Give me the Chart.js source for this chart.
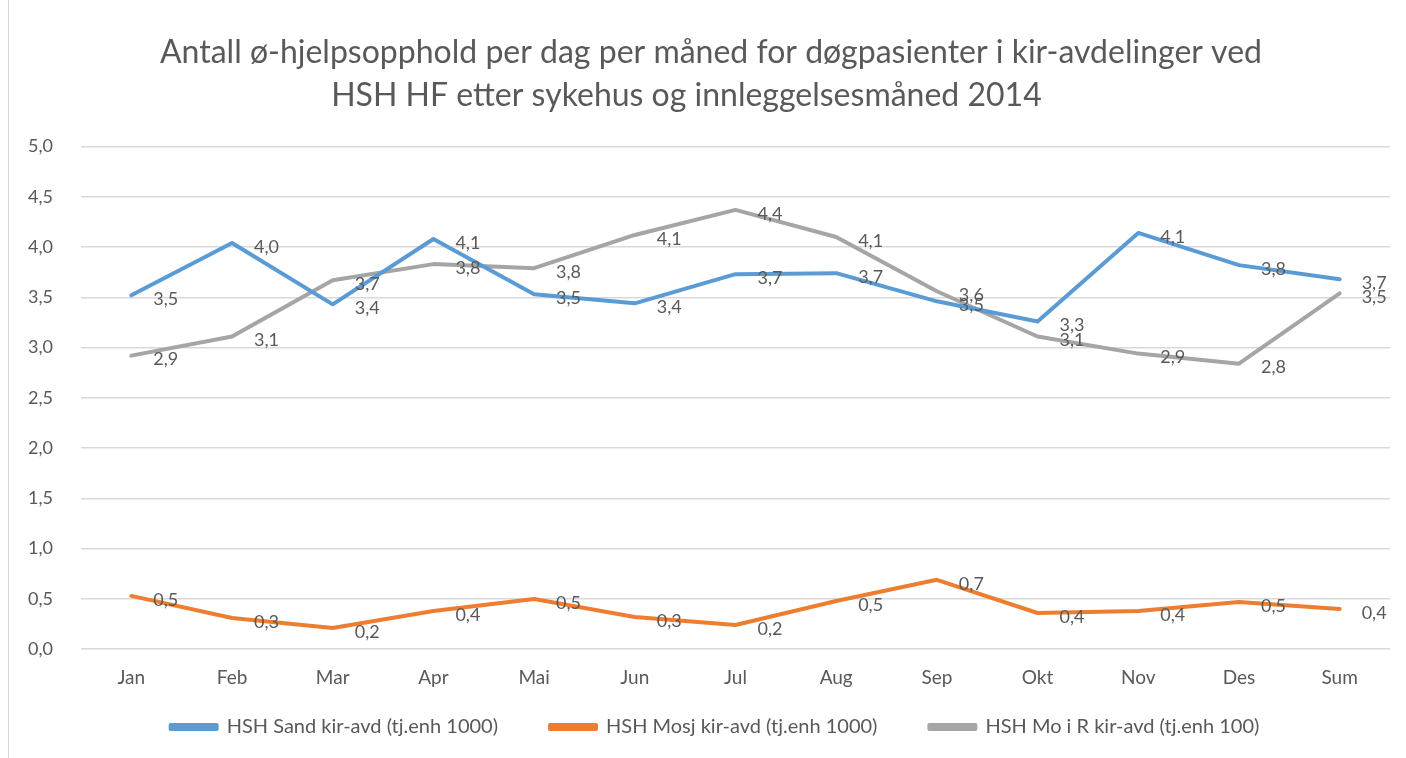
<!DOCTYPE html>
<html>
<head>
<meta charset="utf-8">
<script src="https://cdn.jsdelivr.net/npm/chart.js@4"></script>
<style>
  html, body { margin: 0; padding: 0; background: #fff; }
  #wrap { position: absolute; left: 0; top: 0; width: 1406px; height: 758px; }
  #frame { position: absolute; left: 8px; top: 0; width: 1px; height: 758px; background: #d9d9d9; }
</style>
</head>
<body>
<div id="wrap"><canvas id="chart" width="1406" height="758"></canvas></div>
<div id="frame"></div>
<script>
/* Øhjelp per dag per måned, kir-avdelinger HSH HF 2014 */

const months = ['Jan','Feb','Mar','Apr','Mai','Jun','Jul','Aug','Sep','Okt','Nov','Des','Sum'];
const sandVals = [3.52, 4.04, 3.43, 4.08, 3.53, 3.44, 3.73, 3.74, 3.46, 3.26, 4.14, 3.82, 3.68];
const mosjVals = [0.53, 0.31, 0.21, 0.38, 0.50, 0.32, 0.24, 0.48, 0.69, 0.36, 0.38, 0.47, 0.40];
const moVals   = [2.92, 3.11, 3.67, 3.83, 3.79, 4.12, 4.37, 4.10, 3.56, 3.11, 2.94, 2.84, 3.54];
const seriesNames = ['HSH Sand kir-avd (tj.enh 1000)', 'HSH Mosj kir-avd (tj.enh 1000)', 'HSH Mo i R kir-avd (tj.enh 100)'];
const titleLines = ['Antall ø-hjelpsopphold per dag per måned for døgpasienter i kir-avdelinger ved',
                    'HSH HF etter sykehus og innleggelsesmåned 2014      '];

const FONT = 'Lato, "Open Sans", sans-serif';
const TXT = '#595959';
const fmt = v => v.toFixed(1).replace('.', ',');

// value labels to the right of each point, like Excel's "Right" position
const valueLabels = {
  id: 'valueLabels',
  afterDatasetsDraw(chart) {
    const ctx = chart.ctx;
    ctx.save();
    ctx.font = '18px ' + FONT;
    ctx.fillStyle = TXT;
    ctx.textAlign = 'left';
    ctx.textBaseline = 'middle';
    chart.data.datasets.forEach((ds, i) => {
      const meta = chart.getDatasetMeta(i);
      meta.data.forEach((pt, j) => {
        ctx.fillText(fmt(ds.data[j]), pt.x + 22, pt.y + 4);
      });
    });
    ctx.restore();
  }
};

// nudge title and legend to the right, Excel centres them a bit off the canvas middle
const nudge = {
  id: 'nudge',
  afterLayout(chart) {
    chart.titleBlock.left += 16; chart.titleBlock.right += 16;
    chart.legend.left += 20; chart.legend.right += 20;
  }
};

function line(label, data, color) {
  return {
    label, data,
    borderColor: color, backgroundColor: color,
    borderWidth: 4, pointRadius: 0, tension: 0,
    borderJoinStyle: 'round', borderCapStyle: 'round'
  };
}

new Chart(document.getElementById('chart'), {
  type: 'line',
  data: {
    labels: months,
    datasets: [
      line(seriesNames[0], sandVals, '#5B9BD5'),
      line(seriesNames[1], mosjVals, '#ED7D31'),
      line(seriesNames[2], moVals,   '#A5A5A5'),
    ]
  },
  plugins: [valueLabels, nudge],
  options: {
    responsive: false, animation: false,
    layout: { padding: { left: 0, right: 16, top: 32, bottom: 11 } },
    plugins: {
      title: {
        display: true, text: titleLines, color: TXT,
        font: { family: FONT, size: 32, weight: 'normal', lineHeight: 1.32 },
        padding: { top: 0, bottom: 30 }
      },
      legend: {
        position: 'bottom',
        labels: {
          color: TXT, font: { family: FONT, size: 20 },
          boxWidth: 46, boxHeight: 4, padding: 11,
          // trailing spaces widen the gap between entries without growing the legend height
          generateLabels(chart) {
            const items = Chart.defaults.plugins.legend.labels.generateLabels(chart);
            items.forEach((it, i) => { if (i < items.length - 1) it.text += '        '; });
            return items;
          }
        }
      },
      tooltip: { enabled: false }
    },
    scales: {
      x: {
        offset: true,
        grid: { display: false, drawTicks: false },
        border: { display: false },
        ticks: { color: TXT, font: { family: FONT, size: 19 }, padding: 17 }
      },
      y: {
        min: 0, max: 5,
        grid: { color: '#d9d9d9', lineWidth: 1.5, drawTicks: false },
        border: { display: false },
        ticks: {
          stepSize: 0.5, color: TXT, font: { family: FONT, size: 18 }, padding: 28,
          callback: v => fmt(v)
        }
      }
    }
  }
});
</script>
</body>
</html>
